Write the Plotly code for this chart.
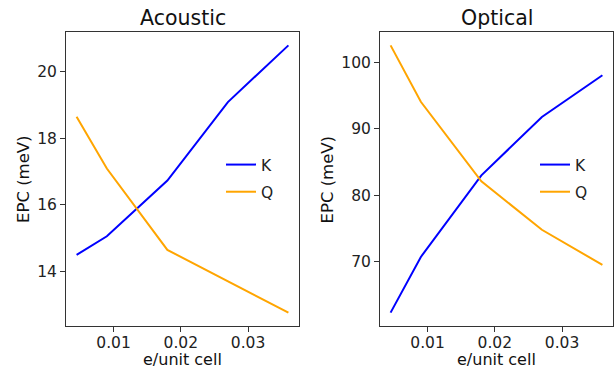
import plotly.graph_objects as go

x_vals = [0.0045, 0.009, 0.018, 0.027, 0.036]
acoustic_K = [14.5, 15.06, 16.73, 19.08, 20.78]
acoustic_Q = [18.64, 17.09, 14.65, 13.71, 12.77]
optical_K = [62.3, 70.7, 83.0, 91.8, 98.1]
optical_Q = [102.6, 94.1, 82.1, 74.8, 69.5]
x_ticks = [0.01, 0.02, 0.03]
x_tick_labels = ["0.01", "0.02", "0.03"]
acoustic_ticks = [14, 16, 18, 20]
optical_ticks = [70, 80, 90, 100]
panel_titles = ["Acoustic", "Optical"]
x_title = "e/unit cell"
y_title = "EPC (meV)"

BLUE = "#0000ff"
ORANGE = "#ffa500"
FONT = "DejaVu Sans"
TICK_FS = 15.5
LABEL_FS = 16.5
LEG_FS = 15.5

fig = go.Figure()
fig.add_trace(go.Scatter(x=x_vals, y=acoustic_K, mode="lines", name="K",
                         line=dict(color=BLUE, width=2), xaxis="x", yaxis="y",
                         legend="legend", legendgroup="a1"))
fig.add_trace(go.Scatter(x=x_vals, y=acoustic_Q, mode="lines", name="Q",
                         line=dict(color=ORANGE, width=2), xaxis="x", yaxis="y",
                         legend="legend", legendgroup="a2"))
fig.add_trace(go.Scatter(x=x_vals, y=optical_K, mode="lines", name="K",
                         line=dict(color=BLUE, width=2), xaxis="x2", yaxis="y2",
                         legend="legend2", legendgroup="b1"))
fig.add_trace(go.Scatter(x=x_vals, y=optical_Q, mode="lines", name="Q",
                         line=dict(color=ORANGE, width=2), xaxis="x2", yaxis="y2",
                         legend="legend2", legendgroup="b2"))

def margin_range(vals):
    lo, hi = min(vals), max(vals)
    pad = (hi - lo) * 0.05
    return [lo - pad, hi + pad]

axis_common = dict(showline=True, linecolor="#333333", linewidth=1, mirror=True,
                   ticks="outside", ticklen=5, tickwidth=1, tickcolor="#333333",
                   showgrid=False, zeroline=False,
                   tickfont=dict(family=FONT, size=TICK_FS, color="#222222"))

ydom = [1 - 326 / 370, 1 - 32 / 370]
xrange_ = margin_range(x_vals)

def ann(text, x, y, size, angle=0, yanchor="middle"):
    return dict(text=text, x=x / 616, y=1 - y / 370, xref="paper", yref="paper",
                showarrow=False, xanchor="center", yanchor=yanchor, textangle=angle,
                borderpad=0,
                font=dict(family=FONT, size=size, color="#111111"))

fig.update_layout(
    width=616, height=370,
    margin=dict(l=0, r=0, t=0, b=0),
    paper_bgcolor="white", plot_bgcolor="white",
    font=dict(family=FONT, color="#222222"),
    xaxis=dict(domain=[66 / 616, 299 / 616], range=xrange_, tickvals=x_ticks,
               ticktext=x_tick_labels, anchor="y", ticklabelstandoff=-3, **axis_common),
    yaxis=dict(domain=ydom, range=margin_range(acoustic_K + acoustic_Q),
               tickvals=acoustic_ticks, anchor="x", **axis_common),
    xaxis2=dict(domain=[380 / 616, 613 / 616], range=xrange_, tickvals=x_ticks,
                ticktext=x_tick_labels, anchor="y2", ticklabelstandoff=-3, **axis_common),
    yaxis2=dict(domain=ydom, range=margin_range(optical_K + optical_Q),
                tickvals=optical_ticks, anchor="x2", **axis_common),
    legend=dict(x=221 / 616, y=1 - 178.5 / 370, xanchor="left", yanchor="middle",
                bgcolor="rgba(0,0,0,0)", font=dict(family=FONT, size=LEG_FS),
                traceorder="grouped", tracegroupgap=4, itemwidth=30),
    legend2=dict(x=535 / 616, y=1 - 178.5 / 370, xanchor="left", yanchor="middle",
                 bgcolor="rgba(0,0,0,0)", font=dict(family=FONT, size=LEG_FS),
                 traceorder="grouped", tracegroupgap=4, itemwidth=30),
    showlegend=True,
    annotations=[
        ann(panel_titles[0], (66 + 299) / 2, 18, 20.5),
        ann(panel_titles[1], (380 + 613) / 2, 18, 20.5),
        ann(x_title, (66 + 299) / 2, 370, 16, yanchor="bottom"),
        ann(x_title, (380 + 613) / 2, 370, 16, yanchor="bottom"),
        ann(y_title, 24, 179, LABEL_FS, -90),
        ann(y_title, 327.5, 179, LABEL_FS, -90),
    ],
)

fig.write_html("out.html")
